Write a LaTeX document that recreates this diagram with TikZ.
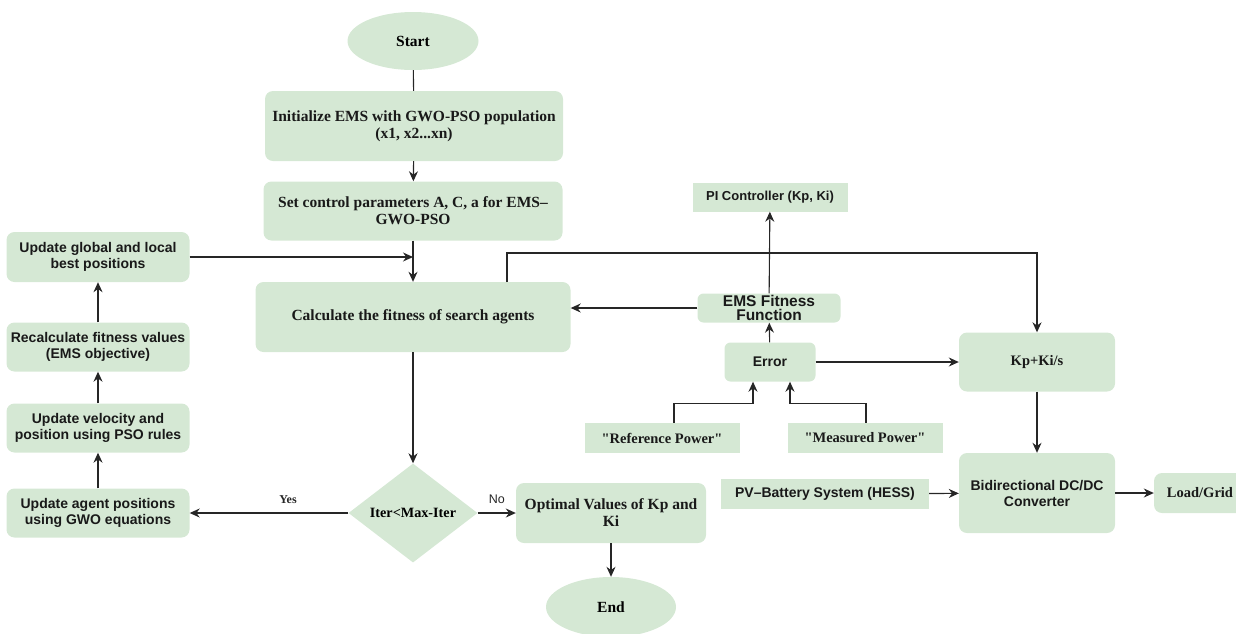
\documentclass[tikz,border=0pt]{standalone}
\usepackage{fontspec}
\setmainfont{Liberation Serif}
\setsansfont{Liberation Sans}
\usetikzlibrary{shapes.geometric, arrows.meta, positioning}

\definecolor{boxgreen}{RGB}{213,232,212}
\newcommand{\flowserif}{\rmfamily\bfseries\fontsize{15.5}{17}\selectfont}
\newcommand{\flowsans}{\sffamily\bfseries\fontsize{14}{16}\selectfont}

\tikzstyle{arrow} = [line width=1.1pt, black!85, -{Stealth[length=10pt,width=9pt]}]
\tikzstyle{link} = [line width=1.1pt, black!85]
\tikzstyle{block} = [rectangle, rounded corners=8pt, fill=boxgreen, inner sep=0pt, align=center, text=black!90]
\tikzstyle{tag} = [rectangle, fill=boxgreen, inner sep=0pt, align=center, text=black!90]
\tikzstyle{terminal} = [ellipse, fill=boxgreen, inner sep=0pt, font=\flowserif]

\begin{document}
\begin{tikzpicture}[x=1pt, y=-1pt]

    % Frame
    \useasboundingbox (0,0) rectangle (1236,633);
    \clip (0,0) rectangle (1236,633);

    % Main flow
    \node[terminal, minimum width=131, minimum height=58] (Start) at (413,41) {Start};
    \node[block, font=\flowserif, minimum width=298, minimum height=70] (Init) at (414,126) {Initialize EMS with GWO-PSO population\\(x1, x2...xn)};
    \node[block, font=\flowserif, minimum width=299, minimum height=59] (SetParams) at (413,211) {Set control parameters A, C, a for EMS–\\GWO-PSO};
    \node[block, font=\flowserif, minimum width=315, minimum height=70] (CalcFit) at (413,317) {Calculate the fitness of search agents};
    \node[diamond, aspect=1.3, fill=boxgreen, inner sep=0pt, minimum width=129, minimum height=99,
          font=\rmfamily\bfseries\fontsize{14.2}{16}\selectfont] (IterCheck) at (413,513) {Iter<Max-Iter};
    \node[block, font=\flowserif, minimum width=190, minimum height=60] (Optimal) at (611,513) {Optimal Values of Kp and\\Ki};
    \node[terminal, minimum width=130, minimum height=60] (End) at (611,607) {End};

    % PSO update loop
    \node[block, font=\flowsans, minimum width=183, minimum height=50] (UpdGlobal) at (98,257) {Update global and local\\best positions};
    \node[block, font=\flowsans, minimum width=183, minimum height=49] (Recalc) at (98,347) {Recalculate fitness values\\(EMS objective)};
    \node[block, font=\flowsans, minimum width=183, minimum height=49] (UpdVel) at (98,428) {Update velocity and\\position using PSO rules};
    \node[block, font=\flowsans, minimum width=183, minimum height=49] (UpdAgent) at (98,513) {Update agent positions\\using GWO equations};

    % Control side
    \node[tag, font=\sffamily\bfseries\fontsize{13}{15}\selectfont, minimum width=155, minimum height=29] (PICtrl) at (770,197) {PI Controller (Kp, Ki)};
    \node[block, rounded corners=6pt, font=\sffamily\bfseries\fontsize{15.5}{14}\selectfont, minimum width=143, minimum height=29] (EMSFit) at (769,308) {EMS Fitness\\Function};
    \node[block, rounded corners=6pt, font=\flowsans, minimum width=91, minimum height=39] (Error) at (770,362) {Error};
    \node[tag, font=\rmfamily\bfseries\fontsize{14.5}{16}\selectfont, minimum width=155, minimum height=30] (RefPow) at (662,438) {\textquotedbl Reference Power\textquotedbl};
    \node[tag, font=\rmfamily\bfseries\fontsize{14.5}{16}\selectfont, minimum width=155, minimum height=30] (MeasPow) at (865,438) {\textquotedbl Measured Power\textquotedbl};
    \node[block, font=\rmfamily\bfseries\fontsize{14.5}{16}\selectfont, minimum width=156, minimum height=59] (KpKi) at (1037,362) {Kp+Ki/s};
    \node[block, font=\flowsans, minimum width=156, minimum height=80] (Bidir) at (1037,493) {Bidirectional DC/DC\\Converter};
    \node[tag, font=\flowsans, minimum width=208, minimum height=30] (PVBat) at (825,494) {PV–Battery System (HESS)};
    \node[block, font=\rmfamily\bfseries\fontsize{14.5}{16}\selectfont, minimum width=92, minimum height=40] (LoadGrid) at (1200,493) {Load/Grid};

    % Junction points
    \coordinate (FitTap) at (507,282);
    \coordinate (TopRail) at (0,253);

    % Lines
    \draw[link] (Start) -- (Init);
    \draw[arrow] (Init) -- (SetParams);
    \draw[arrow] (SetParams) -- (CalcFit);
    \draw[arrow] (UpdGlobal.east) -- (UpdGlobal.east -| SetParams.south);
    \draw[arrow] (CalcFit) -- (IterCheck);
    \draw[arrow] (IterCheck.west) -- (UpdAgent.east)
        node[pos=0.38, above=6pt, font=\rmfamily\bfseries\fontsize{12}{14}\selectfont] {Yes};
    \draw[arrow] (IterCheck.east) -- (Optimal.west)
        node[midway, above=6pt, font=\sffamily\fontsize{12.5}{14}\selectfont] {No};
    \draw[arrow] (Optimal) -- (End);

    \draw[arrow] (UpdAgent) -- (UpdVel);
    \draw[arrow] (UpdVel) -- (Recalc);
    \draw[arrow] (Recalc) -- (UpdGlobal);

    \draw[arrow] (FitTap) -- (FitTap |- TopRail) -- (KpKi.north |- TopRail) -- (KpKi.north);
    \draw[arrow] (EMSFit) -- (PICtrl);
    \draw[arrow] (EMSFit.west) -- (EMSFit.west -| CalcFit.east);
    \draw[arrow] (Error) -- (EMSFit);
    \draw[arrow] (Error) -- (KpKi);
    \draw[arrow] ([xshift=12pt]RefPow.north) -- ++(0,-19) -| ([xshift=-17pt]Error.south);
    \draw[arrow] ([xshift=1pt]MeasPow.north) -- ++(0,-19) -| ([xshift=20pt]Error.south);
    \draw[arrow] (KpKi) -- (Bidir);
    \draw[arrow] (PVBat) -- (Bidir);
    \draw[arrow] (Bidir) -- (LoadGrid);

\end{tikzpicture}
\end{document}
